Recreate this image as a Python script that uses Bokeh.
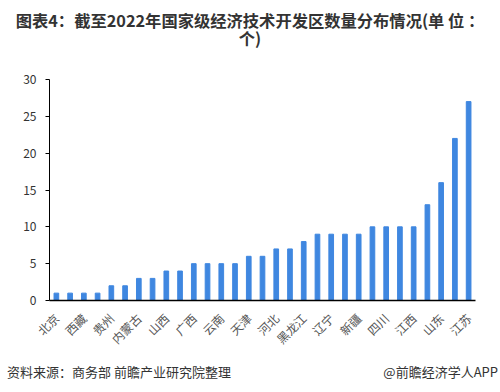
from math import pi
from bokeh.plotting import figure
from bokeh.layouts import column
from bokeh.models import FixedTicker, Range1d, Div
from bokeh.embed import file_html
from bokeh.resources import INLINE

provinces = ["北京", "海南", "西藏", "青海", "贵州", "宁夏", "内蒙古", "重庆",
             "山西", "甘肃", "广西", "陕西", "云南", "吉林", "天津", "上海",
             "河北", "湖北", "黑龙江", "广东", "辽宁", "河南", "新疆", "湖南",
             "四川", "福建", "江西", "安徽", "山东", "浙江", "江苏"]
counts = [1, 1, 1, 1, 2, 2, 3, 3, 4, 4, 5, 5, 5, 5, 6, 6, 7, 7, 8, 9, 9, 9, 9,
          10, 10, 10, 10, 13, 16, 22, 27]
y_ticks = [0, 5, 10, 15, 20, 25, 30]

title_lines = ["图表4：截至2022年国家级经济技术开发区数量分布情况(单 位 ：", "个)"]
source_text = "资料来源：商务部 前瞻产业研究院整理"
brand_text = "@前瞻经济学人APP"

FONT = "Noto Sans CJK SC"
W = 500
idx = list(range(len(provinces)))

# header with the two-line title
line_css = ("position:absolute;left:0;width:{w}px;top:{t}px;text-align:center;"
            "white-space:nowrap;line-height:18px;margin:0;padding:0;")
head_html = (
    f'<div style="position:relative;width:{W}px;height:69px;margin:0;padding:0;'
    f"font-family:'{FONT}';font-size:16.3px;font-weight:bold;color:#333333;\">"
    f'<div style="{line_css.format(w=W, t=11)}">{title_lines[0]}</div>'
    f'<div style="{line_css.format(w=W, t=29)}">{title_lines[1]}</div>'
    "</div>"
)
head = Div(text=head_html, width=W, height=69, margin=0)

# main chart
p = figure(width=W, height=290, output_backend="svg", toolbar_location=None,
           x_range=Range1d(-0.5, len(provinces) - 0.5), y_range=Range1d(0, 30),
           min_border_left=49, min_border_right=25, min_border_top=10,
           min_border_bottom=59, title=None, margin=0)
p.outline_line_color = None

p.vbar(x=idx, top=counts, width=0.34, color="#3F87E0")

p.xgrid.visible = False
p.ygrid.visible = False

p.xaxis.ticker = FixedTicker(ticks=idx[::2])
p.xaxis.major_label_overrides = {i: provinces[i] for i in idx}
p.xaxis.major_label_orientation = pi / 4
p.xaxis.major_tick_line_color = None
p.xaxis.minor_tick_line_color = None
p.xaxis.axis_line_color = "black"
p.xaxis.axis_line_width = 1.5
p.xaxis.major_label_text_font = FONT
p.xaxis.major_label_text_font_size = "12px"
p.xaxis.major_label_text_color = "#555555"
p.xaxis.major_label_standoff = 9

p.yaxis.ticker = FixedTicker(ticks=y_ticks)
p.yaxis.axis_line_color = "black"
p.yaxis.major_tick_line_color = "black"
p.yaxis.major_tick_out = 4
p.yaxis.major_tick_in = 0
p.yaxis.minor_tick_line_color = None
p.yaxis.major_label_text_font = FONT
p.yaxis.major_label_text_font_size = "12px"
p.yaxis.major_label_text_color = "#333333"
p.yaxis.major_label_standoff = 9

# footer
foot_html = (
    f'<div style="position:relative;width:{W}px;height:33px;margin:0;padding:0;'
    f"font-family:'{FONT}';font-size:13px;color:#333333;line-height:20px;\">"
    f'<div style="position:absolute;left:7px;top:3px;white-space:nowrap;">{source_text}</div>'
    f'<div style="position:absolute;right:2px;top:3px;white-space:nowrap;">{brand_text}</div>'
    "</div>"
)
foot = Div(text=foot_html, width=W, height=33, margin=0)

layout = column(head, p, foot, spacing=0, margin=0)
open("out.html", "w").write(file_html(layout, INLINE))
